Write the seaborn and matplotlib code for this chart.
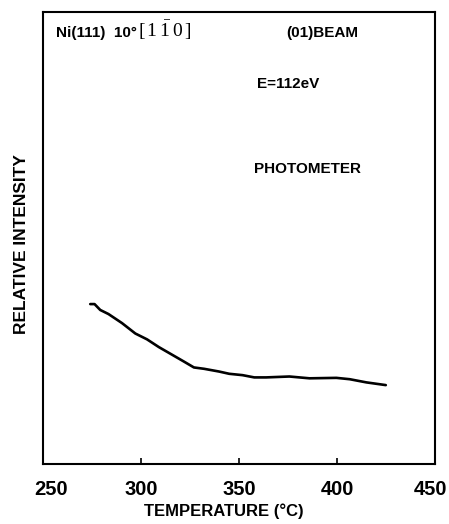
import matplotlib
matplotlib.use("Agg")
import matplotlib.pyplot as plt
import matplotlib.transforms as mtransforms
import seaborn as sns
import pandas as pd

# ---- data ----
temperature = [274.1, 276.3, 279.2, 283.4, 290.3, 297.1, 303.1, 309.1, 315.9,
               321.9, 327.0, 332.2, 339.8, 345.0, 351.8, 357.8, 363.8, 375.7,
               386.0, 399.7, 406.5, 415.0, 424.9]
intensity = [35.4, 35.4, 34.1, 33.2, 31.2, 28.9, 27.6, 25.9, 24.2,
             22.7, 21.4, 21.1, 20.5, 20.0, 19.7, 19.2, 19.2, 19.4,
             19.0, 19.1, 18.8, 18.1, 17.5]
x_ticks = [250, 300, 350, 400, 450]
x_label = "TEMPERATURE (°C)"
y_label = "RELATIVE INTENSITY"
sample_text = "Ni(111)  10°"
direction_text = "$\\mathrm{[\\,1\\:\\bar{1}\\:0\\,]}$"
beam_text = "(01)BEAM"
energy_text = "E=112eV"
method_text = "PHOTOMETER"

df = pd.DataFrame({"T": temperature, "I": intensity})

sns.set_style("ticks")
FAM = ["Liberation Sans", "DejaVu Sans"]
plt.rcParams["font.family"] = FAM
plt.rcParams["mathtext.fontset"] = "custom"
plt.rcParams["mathtext.rm"] = "Liberation Serif"
plt.rcParams["mathtext.it"] = "Liberation Serif:italic"

fig = plt.figure(figsize=(4.49, 5.24), dpi=100)
ax = fig.add_axes([0.0958, 0.1139, 0.9688 - 0.0958, 0.9777 - 0.1139])

sns.lineplot(data=df, x="T", y="I", ax=ax, color="black", linewidth=1.9)

ax.set_xlim(250, 450)
ax.set_ylim(0, 100)
ax.set_xticks(x_ticks)
ax.set_yticks([])
ax.tick_params(axis="x", direction="in", length=4, width=1.2, pad=11,
               labelsize=14.5, colors="black")
labels = ax.get_xticklabels()
for lab in labels:
    lab.set_fontweight("bold")
# small hand offsets of the first / last tick labels, as in the reference
labels[0].set_transform(labels[0].get_transform() +
                        mtransforms.ScaledTranslation(8 / 100, 0, fig.dpi_scale_trans))
labels[-1].set_transform(labels[-1].get_transform() +
                         mtransforms.ScaledTranslation(-4 / 100, 0, fig.dpi_scale_trans))

for s in ax.spines.values():
    s.set_visible(True)
    s.set_linewidth(1.5)
    s.set_color("black")

ax.set_xlabel(x_label, fontsize=12, color="black", fontweight="bold")
ax.xaxis.set_label_coords(0.46, -0.086)
ax.set_ylabel(y_label, fontsize=12.5, color="black", va="center", fontweight="bold")
ax.yaxis.set_label_coords(-0.056, 0.487)

kw = dict(color="black", fontsize=11, va="baseline", fontweight="bold")
ax.text(256.8, 94.4, sample_text, ha="left", **kw)
ax.text(298.3, 94.4, direction_text, ha="left", color="black", fontsize=14,
        va="baseline")
ax.text(392.4, 94.4, beam_text, ha="center", **kw)
ax.text(375.0, 83.1, energy_text, ha="center", **kw)
ax.text(384.7, 64.4, method_text, ha="center", **kw)

fig.savefig("out.png", dpi=100)
